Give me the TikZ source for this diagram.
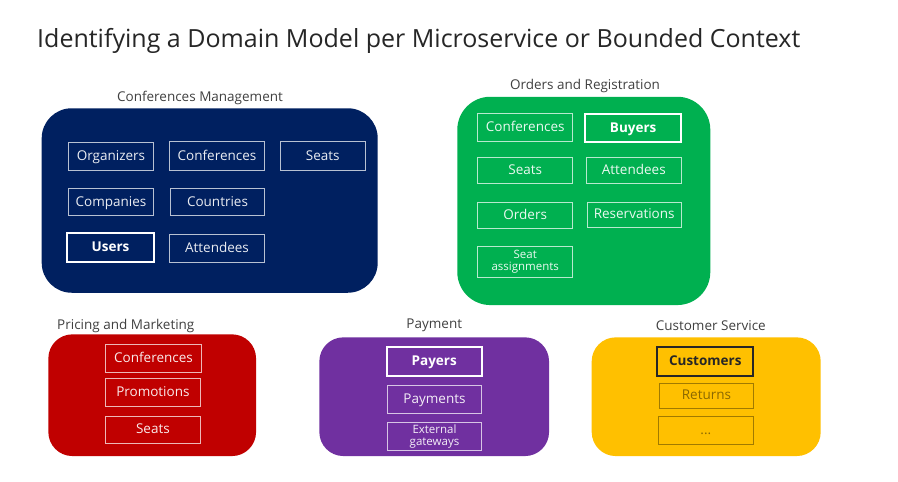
\documentclass[tikz,border=0pt]{standalone}
\usepackage{fontspec}
\setmainfont{Open Sans}
\definecolor{cmblue}{HTML}{002060}
\definecolor{orgreen}{HTML}{00B050}
\definecolor{pmred}{HTML}{C00000}
\definecolor{paypurple}{HTML}{7030A0}
\definecolor{csyellow}{HTML}{FFC000}
\definecolor{labelgray}{HTML}{404040}
\definecolor{titlegray}{HTML}{262626}
\definecolor{ybrown}{HTML}{8A6800}
\begin{document}
\begin{tikzpicture}[x=1pt,y=-1pt,
  outer/.style={draw=none, rounded corners=30pt, inner sep=0pt},
  grouplabel/.style={text=labelgray, font=\fontsize{13.5}{16}\selectfont, inner sep=0pt},
  fixh/.style={text height=9.8pt, text depth=1.5pt},
  ibox/.style={draw=white!72!#1, line width=0.9pt, text=white!92!#1, inner sep=0pt,
    font=\fontsize{13.5}{15}\selectfont, align=center, fixh},
  bbox/.style={draw=white, line width=2.2pt, text=white, inner sep=0pt,
    font=\bfseries\fontsize{13.5}{15}\selectfont, align=center, fixh},
  smalltext/.style={font=\fontsize{11.5}{12.5}\selectfont, text height=, text depth=},
  ybox/.style={draw=ybrown!80!csyellow, line width=0.9pt, text=ybrown, inner sep=0pt,
    font=\fontsize{13.5}{15}\selectfont, align=center, fixh},
  yboldbox/.style={draw=titlegray, line width=2.2pt, text=titlegray, inner sep=0pt,
    font=\bfseries\fontsize{13.5}{15}\selectfont, align=center, fixh}
]
\useasboundingbox[fill=white] (0,0) rectangle (898,482);

\node[anchor=base west, text=titlegray, inner sep=0pt,
  font=\fontsize{25}{29}\selectfont] (title) at (37,47)
  {Identifying a Domain Model per Microservice or Bounded Context};

% Conferences Management
\node[outer, fill=cmblue, minimum width=336, minimum height=184.5] (cm) at (209.7,200.5) {};
\node[grouplabel] (cmlabel) at (200,97.5) {Conferences Management};
\node[ibox=cmblue, minimum width=85.4, minimum height=28] (cmorg) at (111,156.3) {Organizers};
\node[ibox=cmblue, minimum width=95.4, minimum height=28.3] (cmconf) at (217,155.9) {Conferences};
\node[ibox=cmblue, minimum width=85.3, minimum height=28.3] (cmseats) at (322.7,155.9) {Seats};
\node[ibox=cmblue, minimum width=85.4, minimum height=27.4] (cmcomp) at (111,202) {Companies};
\node[ibox=cmblue, minimum width=94.4, minimum height=27.4] (cmcountry) at (217.5,202) {Countries};
\node[bbox, minimum width=86.4, minimum height=29] (cmusers) at (110.5,247.5) {Users};
\node[ibox=cmblue, minimum width=95.4, minimum height=28] (cmatt) at (217,248) {Attendees};

% Orders and Registration
\node[outer, fill=orgreen, rounded corners=33pt, minimum width=253, minimum height=208.3] (or) at (583.8,200.9) {};
\node[grouplabel] (orlabel) at (585,86) {Orders and Registration};
\node[ibox=orgreen, minimum width=95, minimum height=28.4] (orconf) at (525.2,127.5) {Conferences};
\node[bbox, minimum width=95.7, minimum height=27.7] (orbuyers) at (633.2,127.9) {Buyers};
\node[ibox=orgreen, minimum width=95, minimum height=26] (orseats) at (525.2,170.3) {Seats};
\node[ibox=orgreen, minimum width=95, minimum height=26] (oratt) at (633.8,170.3) {Attendees};
\node[ibox=orgreen, minimum width=95, minimum height=26] (ororders) at (525.2,215.3) {Orders};
\node[ibox=orgreen, minimum width=94.3, minimum height=25] (orres) at (634.2,214.8) {Reservations};
\node[ibox=orgreen, smalltext, minimum width=95, minimum height=31.3] (orseatas) at (525.2,261.7) {Seat\\assignments};

% Pricing and Marketing
\node[outer, fill=pmred, rounded corners=24pt, minimum width=207.7, minimum height=121.7] (pm) at (152.2,395.2) {};
\node[grouplabel] (pmlabel) at (125.8,325.7) {Pricing and Marketing};
\node[ibox=pmred, minimum width=95.6, minimum height=27.7] (pmconf) at (153.5,358.2) {Conferences};
\node[ibox=pmred, minimum width=94.3, minimum height=28] (pmpromo) at (152.9,392.3) {Promotions};
\node[ibox=pmred, minimum width=94.3, minimum height=27.3] (pmseats) at (152.9,429.7) {Seats};

% Payment
\node[outer, fill=paypurple, rounded corners=24pt, minimum width=229.7, minimum height=118.7] (pay) at (434.2,396.7) {};
\node[grouplabel] (paylabel) at (434.3,325.7) {Payment};
\node[bbox, minimum width=95, minimum height=28.7] (paypayers) at (434.2,361.7) {Payers};
\node[ibox=paypurple, minimum width=94.4, minimum height=28] (paypayments) at (434.5,399.3) {Payments};
\node[ibox=paypurple, smalltext, minimum width=94.4, minimum height=27.3] (payext) at (434.5,436.4) {External\\gateways};

% Customer Service
\node[outer, fill=csyellow, rounded corners=24pt, minimum width=229, minimum height=118.7] (cs) at (706.2,396.7) {};
\node[grouplabel] (cslabel) at (710.8,325.7) {Customer Service};
\node[yboldbox, minimum width=96, minimum height=28.7] (cscust) at (705.3,361.7) {Customers};
\node[ybox, minimum width=94.4, minimum height=25] (csret) at (706.5,395.8) {Returns};
\node[ybox, minimum width=95, minimum height=28] (csdots) at (705.8,430) {...};
\end{tikzpicture}
\end{document}
